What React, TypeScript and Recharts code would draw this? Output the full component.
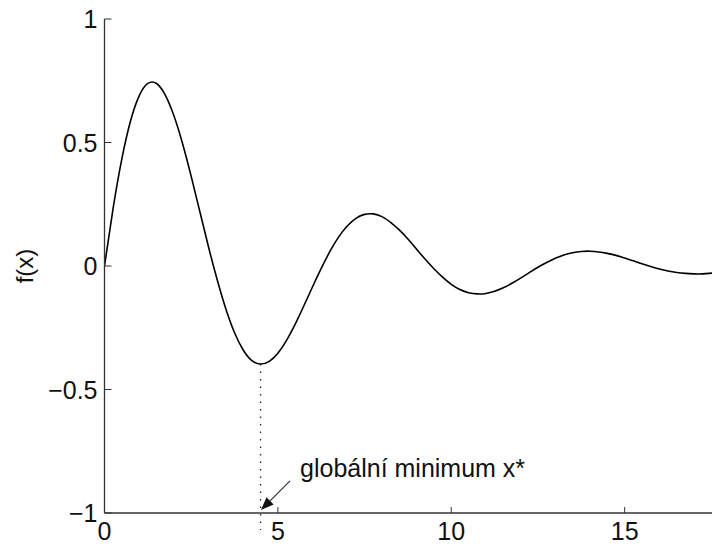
import React from 'react';
import { ComposedChart, Line, XAxis, YAxis, ReferenceLine } from 'recharts';

const xValues = [0, 0.25, 0.5, 0.75, 1, 1.25, 1.5, 1.75, 2, 2.25, 2.5, 2.75, 3, 3.25, 3.5, 3.75, 4, 4.25, 4.5, 4.75, 5, 5.25, 5.5, 5.75, 6, 6.25, 6.5, 6.75, 7, 7.25, 7.5, 7.75, 8, 8.25, 8.5, 8.75, 9, 9.25, 9.5, 9.75, 10, 10.25, 10.5, 10.75, 11, 11.25, 11.5, 11.75, 12, 12.25, 12.5, 12.75, 13, 13.25, 13.5, 13.75, 14, 14.25, 14.5, 14.75, 15, 15.25, 15.5, 15.75, 16, 16.25, 16.5, 16.75, 17, 17.25, 17.5, 17.75];
const fValues = [0, 0.235, 0.434, 0.587, 0.689, 0.739, 0.739, 0.693, 0.609, 0.496, 0.363, 0.22, 0.077, -0.056, -0.174, -0.27, -0.34, -0.383, -0.397, -0.386, -0.353, -0.301, -0.235, -0.161, -0.084, -0.01, 0.059, 0.117, 0.162, 0.193, 0.209, 0.211, 0.2, 0.177, 0.146, 0.109, 0.068, 0.027, -0.011, -0.045, -0.074, -0.095, -0.108, -0.113, -0.111, -0.102, -0.088, -0.07, -0.049, -0.027, -0.005, 0.014, 0.031, 0.045, 0.054, 0.059, 0.06, 0.057, 0.051, 0.043, 0.032, 0.021, 0.009, -0.002, -0.012, -0.02, -0.026, -0.03, -0.032, -0.032, -0.029, -0.026];

const xTicks = [0, 5, 10, 15];
const yTicks = [-1, -0.5, 0, 0.5, 1];
const xDomain = [0, 17.75];
const yDomain = [-1, 1];

const minimumX = 4.5;
const minimumY = -0.397;
const dropEndY = -1.069;
const arrowTail = { x: 5.35, y: -0.87 };
const arrowHead = { x: 4.51, y: -0.988 };
const annotationText = 'globální minimum x*';
const yLabelText = 'f(x)';

const data = xValues.map((x, i) => ({ x, f: fValues[i] }));

const FONT = '"Liberation Sans", Arial, Helvetica, sans-serif';
const FS = 25;
const AXIS = '#333333';

const fmt = (v: number) => (v < 0 ? '\u2212' + String(Math.abs(v)) : String(v));

const BottomTick = (props: any) => {
  const { x, y, payload } = props;
  return (
    <g>
      <line x1={x} y1={y} x2={x} y2={y - 6} stroke={AXIS} strokeWidth={1} />
      <text x={x} y={y + 27} textAnchor="middle" fontFamily={FONT} fontSize={FS} fill="#111">
        {fmt(payload.value)}
      </text>
    </g>
  );
};

const TopTick = (props: any) => {
  const { x, y } = props;
  return <line x1={x} y1={y} x2={x} y2={y + 6} stroke={AXIS} strokeWidth={1} />;
};

const LeftTick = (props: any) => {
  const { x, y, payload } = props;
  return (
    <g>
      <line x1={x + 7} y1={y} x2={x + 14} y2={y} stroke={AXIS} strokeWidth={1} />
      <text x={x} y={y} dy="0.36em" textAnchor="end" fontFamily={FONT} fontSize={FS} fill="#111">
        {fmt(payload.value)}
      </text>
    </g>
  );
};

const YLabel = (props: any) => {
  const vb = props.viewBox;
  const cx = vb.x + 16;
  const cy = vb.y + vb.height / 2;
  return (
    <text
      x={cx}
      y={cy}
      transform={`rotate(-90, ${cx}, ${cy})`}
      textAnchor="middle"
      dominantBaseline="central"
      fontFamily={FONT}
      fontSize={24}
      fill="#111"
    >
      {yLabelText}
    </text>
  );
};

const ArrowShape = (props: any) => {
  const { x1, y1, x2, y2 } = props;
  const dx = x2 - x1;
  const dy = y2 - y1;
  const len = Math.sqrt(dx * dx + dy * dy);
  const ux = dx / len;
  const uy = dy / len;
  const hl = 13;
  const hw = 5;
  const bx = x2 - ux * hl;
  const by = y2 - uy * hl;
  const px = -uy;
  const py = ux;
  return (
    <g>
      <line x1={x1} y1={y1} x2={bx} y2={by} stroke="#333" strokeWidth={1.2} />
      <polygon
        points={`${x2},${y2} ${bx + px * hw},${by + py * hw} ${bx - px * hw},${by - py * hw}`}
        fill="#111"
      />
      <text x={x1 + 10} y={y1 - 4} fontFamily={FONT} fontSize={FS} fill="#111">
        {annotationText}
      </text>
    </g>
  );
};

export default function App() {
  return (
    <ComposedChart
      width={712}
      height={536}
      data={data}
      margin={{ top: 11, right: 0, bottom: 0, left: 0 }}
      style={{ background: '#fff', overflow: 'visible' }}
    >
      <XAxis
        dataKey="x"
        type="number"
        domain={xDomain}
        ticks={xTicks}
        allowDataOverflow
        height={31}
        tickSize={0}
        tickMargin={0}
        tickLine={false}
        axisLine={{ stroke: AXIS, strokeWidth: 1.3 }}
        tick={<BottomTick />}
      />
      <XAxis
        xAxisId="top"
        orientation="top"
        dataKey="x"
        type="number"
        domain={xDomain}
        ticks={xTicks}
        allowDataOverflow
        height={0}
        tickSize={0}
        tickMargin={0}
        tickLine={false}
        axisLine={{ stroke: AXIS, strokeWidth: 1.3 }}
        tick={<TopTick />}
      />
      <YAxis
        type="number"
        domain={yDomain}
        ticks={yTicks}
        allowDataOverflow
        width={96.5}
        tickSize={0}
        tickMargin={7}
        tickLine={false}
        axisLine={{ stroke: AXIS, strokeWidth: 1.3 }}
        tick={<LeftTick />}
        label={<YLabel />}
      />
      <ReferenceLine
        segment={[{ x: minimumX, y: minimumY }, { x: minimumX, y: dropEndY }]}
        ifOverflow="visible"
        stroke="#222"
        strokeWidth={1.3}
        strokeDasharray="1.5 6"
      />
      <ReferenceLine
        segment={[arrowTail, arrowHead]}
        ifOverflow="visible"
        shape={(p: any) => <ArrowShape {...p} />}
      />
      <Line
        dataKey="f"
        type="natural"
        stroke="#000"
        strokeWidth={1.6}
        dot={false}
        isAnimationActive={false}
      />
    </ComposedChart>
  );
}
